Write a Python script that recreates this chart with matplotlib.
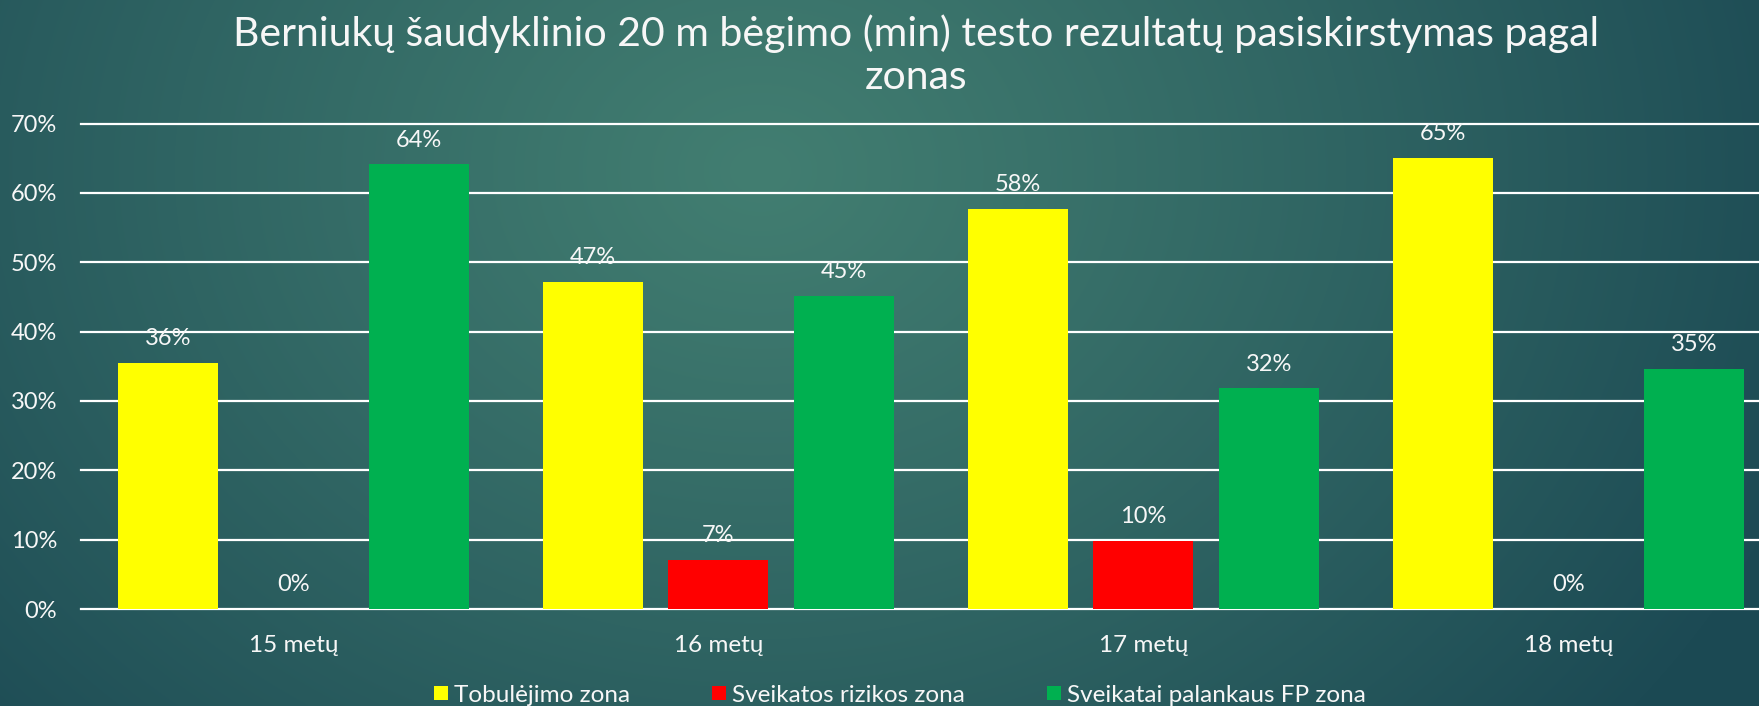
import numpy as np
import matplotlib
matplotlib.use("Agg")
import matplotlib.pyplot as plt
from matplotlib.patches import Patch

# ---- data ----
categories = ["15 metų", "16 metų", "17 metų", "18 metų"]
series_names = ["Tobulėjimo zona", "Sveikatos rizikos zona", "Sveikatai palankaus FP zona"]
tobulejimo = [0.355, 0.471, 0.577, 0.650]
rizikos = [0.0, 0.0705, 0.098, 0.0]
palankaus = [0.641, 0.451, 0.318, 0.346]
labels_tob = ["36%", "47%", "58%", "65%"]
labels_riz = ["0%", "7%", "10%", "0%"]
labels_pal = ["64%", "45%", "32%", "35%"]
yticks = [0, 0.1, 0.2, 0.3, 0.4, 0.5, 0.6, 0.7]
ytick_labels = ["0%", "10%", "20%", "30%", "40%", "50%", "60%", "70%"]
title = "Berniukų šaudyklinio 20 m bėgimo (min) testo rezultatų pasiskirstymas pagal\nzonas"

colors = ["#ffff00", "#ff0000", "#00b050"]
txt_color = "#f7f7f7"

plt.rcParams['font.family'] = ['Lato', 'DejaVu Sans']

W, H = 1759, 706
fig = plt.figure(figsize=(W / 100, H / 100), dpi=100)

# ---- background radial gradient ----
bg = fig.add_axes([0, 0, 1, 1], zorder=-10)
yy, xx = np.mgrid[0:H, 0:W]
cx, cy = 760, 170
d = np.sqrt(((xx - cx) / 1.0) ** 2 + ((yy - cy) / 0.8) ** 2) / 1100.0
d = np.clip(d, 0, 1) ** 1.1
light = np.array([0x42, 0x7e, 0x71]) / 255.0
dark = np.array([0x1c, 0x4a, 0x54]) / 255.0
img = light[None, None, :] + (dark - light)[None, None, :] * d[..., None]
bg.imshow(img, aspect='auto', extent=[0, 1, 0, 1], origin='upper')
bg.axis('off')

# ---- main axes ----
ax = fig.add_axes([80.8 / W, 97 / H, 1700 / W, 485.5 / H])
ax.patch.set_alpha(0)
x = np.arange(len(categories))
off = 125.5 / 425
bw = 100 / 425
data = [tobulejimo, rizikos, palankaus]
labs = [labels_tob, labels_riz, labels_pal]
for i, (vals, lab, col) in enumerate(zip(data, labs, colors)):
    pos = x + (i - 1) * off
    ax.bar(pos, vals, width=bw, color=col, zorder=3, label=series_names[i], clip_on=False)
    for p, v, t in zip(pos, vals, lab):
        ax.annotate(t, (p, v), xytext=(0, 10), textcoords='offset points',
                    ha='center', va='bottom', color=txt_color, fontsize=17, zorder=4)

ax.set_xlim(-0.5, 3.5)
ax.set_ylim(0, 0.7)
ax.set_yticks(yticks)
ax.set_yticklabels(ytick_labels)
ax.set_xticks(x)
ax.set_xticklabels(categories)
ax.tick_params(axis='y', length=0, pad=17, labelsize=17, labelcolor=txt_color)
ax.tick_params(axis='x', length=0, pad=18.5, labelsize=17.5, labelcolor=txt_color)
for s in ax.spines.values():
    s.set_visible(False)
for yv in yticks:
    ax.axhline(yv, color='white', lw=1.6, zorder=1, clip_on=False)

# ---- title ----
fig.text(916 / W, 1 - 55 / H, title, ha='center', va='center', color=txt_color,
         fontsize=29.5, linespacing=1.2)

# ---- legend ----
handles = [Patch(facecolor=c, edgecolor='none') for c in colors]
leg = fig.legend(handles, series_names, loc='center', bbox_to_anchor=(900 / W, 1 - 695 / H),
                 ncol=3, frameon=False, fontsize=17.5, handlelength=0.55, handleheight=0.55,
                 handletextpad=0.25, columnspacing=3.4, labelcolor=txt_color)

fig.savefig("out.png", dpi=100)
